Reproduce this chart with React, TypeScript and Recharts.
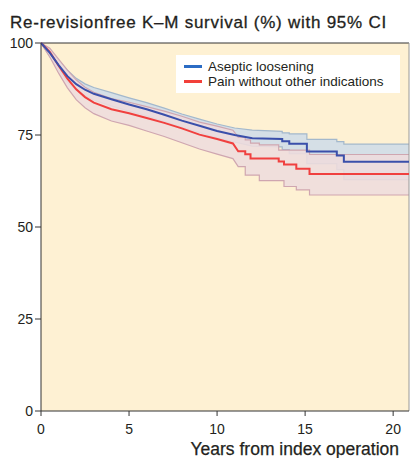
import React from 'react';
import { ComposedChart, Area, Line, XAxis, YAxis, CartesianGrid, ReferenceLine, Legend, Label } from 'recharts';

// Aseptic loosening: K-M estimate with 95% CI
const asepticYears = [0, 0.5, 1, 1.5, 2, 2.5, 3, 4, 5, 6, 7, 8, 9, 10, 11, 12, 13.7, 13.7, 14.1, 14.1, 15.1, 15.1, 16.8, 16.8, 17.2, 17.2, 20.9];
const asepticEst = [100, 97.3, 94, 91.0, 88.8, 87.3, 86.2, 84.7, 83.3, 82.0, 80.5, 78.9, 77.5, 76.1, 75.0, 74.1, 73.9, 73.3, 73.3, 72.6, 72.6, 70.5, 70.5, 69.4, 69.4, 67.7, 67.7];
const asepticHi = [100, 98.3, 95.3, 92.6, 90.4, 88.9, 87.9, 86.5, 85.1, 83.8, 82.3, 80.7, 79.3, 78.0, 76.9, 76.3, 76.0, 75.6, 75.6, 75.3, 75.3, 73.8, 73.8, 73.2, 73.2, 72.5, 72.5];
const asepticLo = [100, 96.3, 92.7, 89.4, 87.2, 85.7, 84.5, 82.9, 81.5, 80.2, 78.7, 77.1, 75.7, 74.2, 73.1, 72.0, 71.8, 71.0, 71.0, 69.9, 69.9, 67.2, 67.2, 65.6, 65.6, 62.9, 62.9];

// Pain without other indications
const painYears = [0, 0.5, 1, 1.5, 2, 2.5, 3, 4, 5, 6, 7, 8, 9, 10, 10.9, 11.2, 11.6, 11.6, 11.9, 11.9, 12.4, 12.4, 13.5, 13.5, 13.8, 13.8, 14.5, 14.5, 15.25, 15.25, 20.9];
const painEst = [100, 97.6, 93.8, 90.3, 87.4, 85.3, 83.8, 82.0, 80.9, 79.6, 78.3, 76.8, 75.1, 73.9, 72.7, 70.6, 70.6, 69.8, 69.8, 68.6, 68.6, 68.6, 68.6, 67.8, 67.8, 67.0, 67.0, 65.8, 65.8, 64.4, 64.4];
const painHi = [100, 98.6, 95.6, 92.6, 90.0, 88.0, 86.6, 84.9, 83.9, 82.7, 81.5, 80.1, 78.5, 77.4, 76.3, 74.4, 74.4, 73.7, 73.7, 72.8, 72.8, 72.3, 72.3, 70.9, 70.9, 70.9, 70.9, 70.9, 70.9, 69.7, 69.7];
const painLo = [100, 96.2, 91.8, 87.8, 84.6, 82.4, 80.8, 78.8, 77.6, 76.1, 74.6, 72.9, 71.2, 69.8, 68.6, 66.4, 66.4, 64.1, 64.1, 64.1, 64.1, 62.6, 62.6, 62.6, 62.6, 61.0, 61.0, 60.1, 60.1, 58.7, 58.7];

const seriesNames = ['Aseptic loosening', 'Pain without other indications'];
const xTicks = [0, 5, 10, 15, 20];
const yTicks = [0, 25, 50, 75, 100];

const FONT = '"Liberation Sans", Arial, Helvetica, sans-serif';
const INK = '#231f20';

const toRows = (years: number[], est: number[], lo: number[], hi: number[]) =>
  years.map((t, i) => ({ t, est: est[i], band: [lo[i], hi[i]] }));

const asepticData = toRows(asepticYears, asepticEst, asepticLo, asepticHi);
const painData = toRows(painYears, painEst, painLo, painHi);

const renderLegend = () => (
  <div
    style={{
      background: '#fff',
      width: 224,
      height: 38,
      boxSizing: 'border-box',
      padding: '4px 0 0 8px',
      fontFamily: FONT,
      fontSize: 13.5,
      lineHeight: '15px',
      color: INK,
    }}
  >
    {seriesNames.map((name, i) => (
      <div key={name} style={{ display: 'flex', alignItems: 'center', height: 15 }}>
        <div style={{ width: 18, height: 2.5, background: i === 0 ? '#2b6cc4' : '#f2403a', marginRight: 6 }} />
        <span style={{ lineHeight: '15px' }}>{name}</span>
      </div>
    ))}
  </div>
);

const renderXLabel = () => (
  <text x={399} y={455} textAnchor="end" fontFamily={FONT} fontSize={17.5} fill={INK} stroke={INK} strokeWidth={0.25}>
    Years from index operation
  </text>
);

export default function App() {
  return (
    <div style={{ position: 'absolute', left: 0, top: 0, width: 410, height: 458, background: '#fff' }}>
      <svg width={410} height={40} style={{ position: 'absolute', left: 0, top: 0 }}>
        <text x={10} y={28} fontFamily={FONT} fontSize={17} letterSpacing={0.75} fill={INK} stroke={INK} strokeWidth={0.3}>
          Re-revisionfree K–M survival (%) with 95% CI
        </text>
      </svg>
      <div style={{ position: 'absolute', left: 0, top: 0 }}>
        <ComposedChart width={410} height={458} margin={{ top: 43, right: 1, bottom: 0, left: 0 }}>
          <CartesianGrid horizontal={false} vertical={false} fill="#fef1d3" fillOpacity={1} />
          <XAxis
            dataKey="t"
            type="number"
            domain={[0, 20.9]}
            ticks={xTicks}
            allowDataOverflow
            height={47}
            tickSize={5}
            tickMargin={8}
            stroke="#333"
            tick={{ fill: INK, fontSize: 14, fontFamily: FONT }}
          >
            <Label content={renderXLabel} />
          </XAxis>
          <YAxis
            type="number"
            domain={[0, 100]}
            ticks={yTicks}
            width={41}
            tickSize={6}
            tickMargin={2}
            stroke="#333"
            tick={{ fill: INK, fontSize: 14, fontFamily: FONT }}
          />
          <ReferenceLine y={100} stroke="#333" />
          <ReferenceLine x={20.9} stroke="#999" />
          <Area
            data={asepticData}
            dataKey="band"
            type="linear"
            stroke="#a3b8cc"
            strokeWidth={1.2}
            fill="#d5dfe6"
            fillOpacity={1}
            isAnimationActive={false}
            legendType="none"
          />
          <Area
            data={painData}
            dataKey="band"
            type="linear"
            stroke="#cfa6b0"
            strokeWidth={1.2}
            fill="#eedcdd"
            fillOpacity={0.88}
            isAnimationActive={false}
            legendType="none"
          />
          <Line
            data={painData}
            dataKey="est"
            name={seriesNames[1]}
            type="linear"
            stroke="#f0403f"
            strokeWidth={2}
            dot={false}
            isAnimationActive={false}
          />
          <Line
            data={asepticData}
            dataKey="est"
            name={seriesNames[0]}
            type="linear"
            stroke="#3a4faa"
            strokeWidth={2}
            dot={false}
            isAnimationActive={false}
          />
          <Legend
            layout="vertical"
            align="center"
            verticalAlign="middle"
            content={renderLegend}
            wrapperStyle={{ left: 176, top: 55, width: 224 }}
          />
        </ComposedChart>
      </div>
    </div>
  );
}
